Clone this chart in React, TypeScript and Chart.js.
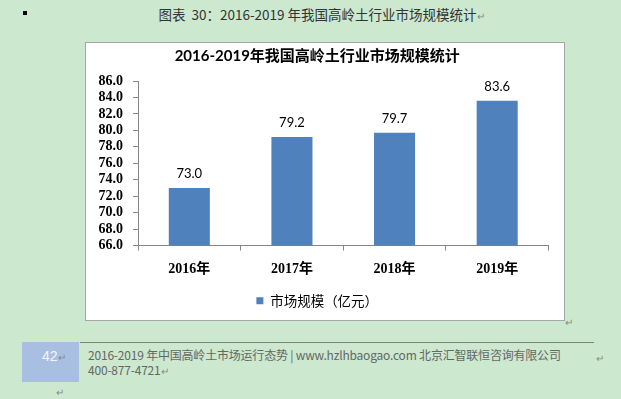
import React, { useEffect, useRef } from "react";
import { Chart, registerables } from "chart.js";

Chart.register(...registerables);

const categories = ["2016年", "2017年", "2018年", "2019年"];
const marketSize = [73.0, 79.2, 79.7, 83.6];
const yMin = 66;
const yMax = 86;
const yStep = 2;
const seriesName = "市场规模（亿元）";
const chartTitle = "2016-2019年我国高岭土行业市场规模统计";
const docCaption = "图表  30：2016-2019 年我国高岭土行业市场规模统计";
const footerLine1 = "2016-2019 年中国高岭土市场运行态势 | www.hzlhbaogao.com 北京汇智联恒咨询有限公司";
const footerLine2 = "400-877-4721";
const pageNumber = "42";

const serif = "'Liberation Serif', 'Times New Roman', 'Noto Sans CJK SC', serif";
const sans = "Lato, 'Noto Sans CJK SC', sans-serif";
const cjk = "'Noto Sans CJK SC', 'Liberation Sans', sans-serif";

const valueLabels = {
  id: "valueLabels",
  afterDatasetsDraw(chart: any) {
    const ctx = chart.ctx;
    const meta = chart.getDatasetMeta(0);
    ctx.save();
    ctx.font = "13px " + sans;
    ctx.fillStyle = "#000";
    ctx.textAlign = "center";
    ctx.textBaseline = "middle";
    meta.data.forEach((bar: any, i: number) => {
      ctx.fillText(marketSize[i].toFixed(1), bar.x, bar.y - 14);
    });
    ctx.restore();
  },
};

function ChartBox() {
  const ref = useRef<HTMLCanvasElement>(null);
  useEffect(() => {
    if (!ref.current) return;
    const chart = new Chart(ref.current, {
      type: "bar",
      data: {
        labels: categories,
        datasets: [
          {
            label: seriesName,
            data: marketSize,
            backgroundColor: "#4F81BD",
            borderWidth: 0,
            categoryPercentage: 1,
            barPercentage: 0.4,
          },
        ],
      },
      options: {
        animation: false,
        responsive: false,
        layout: { padding: { left: 0, right: 15.5, top: 0, bottom: 2.5 } },
        plugins: {
          title: {
            display: true,
            text: chartTitle,
            color: "#000",
            font: { size: 15, weight: "bold", family: sans },
            padding: { top: 4, bottom: 16 },
          },
          legend: {
            position: "bottom",
            labels: {
              boxWidth: 7,
              boxHeight: 7,
              padding: 10,
              color: "#000",
              font: { size: 13.5, family: cjk },
            },
          },
          tooltip: { enabled: false },
        },
        scales: {
          x: {
            grid: {
              display: true,
              drawOnChartArea: false,
              drawTicks: true,
              tickLength: 5,
              color: "#868686",
              offset: true,
            },
            border: { display: true, color: "#868686" },
            ticks: {
              color: "#000",
              padding: 10,
              font: { size: 14, weight: "bold", family: serif },
            },
            afterFit: (s: any) => {
              s.height = 38.5;
            },
          },
          y: {
            min: yMin,
            max: yMax,
            grid: {
              display: true,
              drawOnChartArea: false,
              drawTicks: true,
              tickLength: 5,
              color: "#868686",
            },
            border: { display: true, color: "#868686" },
            ticks: {
              stepSize: yStep,
              autoSkip: false,
              color: "#000",
              padding: 10,
              font: { size: 14, weight: "bold", family: serif },
              callback: (v: any) => Number(v).toFixed(1),
            },
            afterFit: (s: any) => {
              s.width = 52;
            },
          },
        },
      },
      plugins: [valueLabels],
    } as any);
    return () => chart.destroy();
  }, []);
  return <canvas ref={ref} width={478} height={277} style={{ display: "block" }} />;
}

const ret = <span style={{ color: "#888", fontSize: 10 }}>↵</span>;

export default function App() {
  return (
    <div
      style={{
        position: "fixed",
        left: 0,
        top: 0,
        width: 621,
        height: 399,
        background: "#CCE8CF",
        overflow: "hidden",
        fontFamily: cjk,
      }}
    >
      <div style={{ position: "absolute", left: 23, top: 11, width: 4, height: 4, background: "#000" }} />
      <div
        style={{
          position: "absolute",
          left: 0,
          top: 4,
          width: 643,
          textAlign: "center",
          fontSize: 13.5,
          lineHeight: "20px",
          color: "#333",
          whiteSpace: "pre",
        }}
      >
        {docCaption}
        {ret}
      </div>
      <div
        style={{
          position: "absolute",
          left: 85,
          top: 42,
          width: 478,
          height: 277,
          border: "1px solid #A6A6A6",
          background: "#fff",
        }}
      >
        <ChartBox />
      </div>
      <div style={{ position: "absolute", left: 565, top: 312, lineHeight: "14px" }}>{ret}</div>
      <div style={{ position: "absolute", left: 80, top: 342, width: 514, height: 1, background: "#7F7F7F" }} />
      <div
        style={{
          position: "absolute",
          left: 22,
          top: 342,
          width: 57,
          height: 40,
          background: "#A9BFE1",
        }}
      />
      <div
        style={{
          position: "absolute",
          left: 42,
          top: 347,
          fontSize: 14,
          lineHeight: "18px",
          color: "#F4F6FA",
          fontFamily: "'Liberation Sans', sans-serif",
        }}
      >
        {pageNumber}
        <span style={{ color: "#888", fontSize: 10 }}>↵</span>
      </div>
      <div
        style={{
          position: "absolute",
          left: 88,
          top: 347,
          fontSize: 12,
          lineHeight: "15px",
          color: "#666",
          whiteSpace: "nowrap",
          letterSpacing: -0.2,
        }}
      >
        <div>{footerLine1}</div>
        <div>
          {footerLine2}
          {ret}
        </div>
      </div>
      <div style={{ position: "absolute", left: 596, top: 348, lineHeight: "14px" }}>{ret}</div>
      <div style={{ position: "absolute", left: 56, top: 382, lineHeight: "14px" }}>{ret}</div>
    </div>
  );
}
